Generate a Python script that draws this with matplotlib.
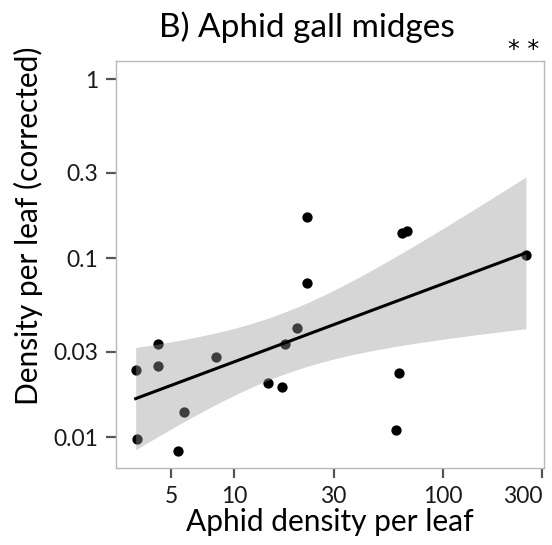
import numpy as np
import matplotlib
matplotlib.use("Agg")
import matplotlib.pyplot as plt

# aphids per leaf vs. gall midge density per leaf (corrected), one point per site
aphids = [3.38, 3.42, 4.34, 4.31, 5.78, 5.37, 8.23, 14.5, 16.9, 17.6,
          20.0, 22.5, 22.3, 63.6, 67.6, 61.7, 59.7, 250.6]
midges = [0.0236, 0.00975, 0.0331, 0.0250, 0.01384, 0.00832, 0.0279, 0.0201, 0.0190, 0.0330,
          0.0405, 0.169, 0.0728, 0.1384, 0.141, 0.0229, 0.0109, 0.1043]

x_ticks = [5, 10, 30, 100, 300]
y_ticks = [0.01, 0.03, 0.1, 0.3, 1]

plt.rcParams["font.family"] = ["Lato", "DejaVu Sans"]

lx = np.log10(aphids)
ly = np.log10(midges)

# ordinary least squares on log-log scale with 95% confidence band
n = len(lx)
slope, intercept = np.polyfit(lx, ly, 1)
resid = ly - (intercept + slope * lx)
s = np.sqrt(np.sum(resid ** 2) / (n - 2))
grid = np.linspace(lx.min(), lx.max(), 200)
se = s * np.sqrt(1 / n + (grid - lx.mean()) ** 2 / np.sum((lx - lx.mean()) ** 2))
t = 2.12  # t(0.975, 16)
fit = intercept + slope * grid

fig = plt.figure(figsize=(5.52, 5.45), dpi=100)
ax = fig.add_axes([0.2101, 0.1413, 0.7754, 0.7467])

ax.scatter(aphids, midges, s=55, color="black", zorder=2, linewidths=0)
# band drawn over the points, so points inside it show grey
ax.fill_between(10 ** grid, 10 ** (fit - t * se), 10 ** (fit + t * se),
                color="#999999", alpha=0.4, linewidth=0, zorder=3)
ax.plot(10 ** grid, 10 ** fit, color="black", lw=2.2, zorder=4)

ax.set_xscale("log")
ax.set_yscale("log")
ax.set_xlim(2.72, 305.8)
ax.set_ylim(0.00672, 1.26)
ax.set_xticks(x_ticks)
ax.set_xticklabels([str(v) for v in x_ticks])
ax.set_yticks(y_ticks)
ax.set_yticklabels([str(v) for v in y_ticks])
ax.minorticks_off()
ax.tick_params(length=7, width=1.6, color="#555555", labelsize=16.5, pad=6,
               labelcolor="#1a1a1a")
ax.get_xticklabels()[-1].set_horizontalalignment("right")

for sp in ax.spines.values():
    sp.set_color("#b8b8b8")
    sp.set_linewidth(1.0)

ax.set_xlabel("Aphid density per leaf", fontsize=21.5, labelpad=1)
fig.text(0.052, 1 - 226 / 545, "Density per leaf (corrected)", rotation=90,
         fontsize=21.5, ha="center", va="center")
fig.text(0.556, 1 - 27 / 545, "B) Aphid gall midges", fontsize=24,
         ha="center", va="center")
# significance stars
fig.text(0.948, 1 - 50 / 545, "* *", fontsize=17, family="DejaVu Sans",
         ha="center", va="center")

fig.savefig("out.png", dpi=100)
